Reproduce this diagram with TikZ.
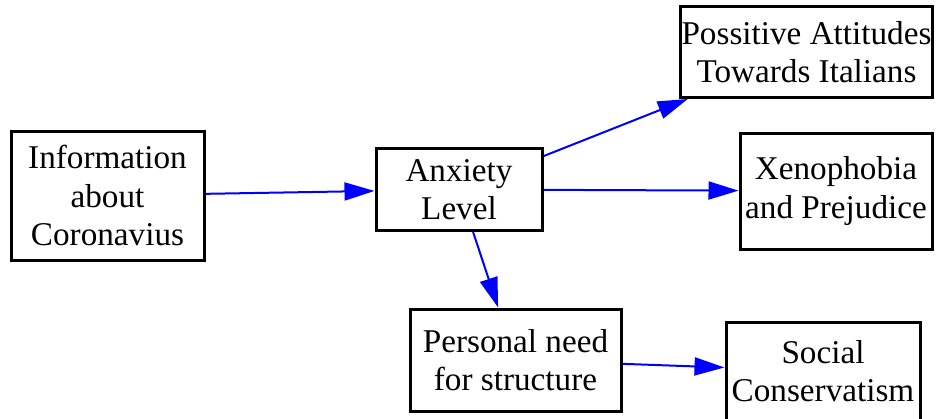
\documentclass[tikz,border=0pt]{standalone}
\usepackage{fontspec}
\setmainfont{Liberation Serif}
\usetikzlibrary{arrows.meta}
\tikzset{>={Triangle[length=15pt,width=9pt]}}

\begin{document}
\begin{tikzpicture}[x=0.5pt,y=-0.5pt,
    box/.style={draw, line width=1.5pt, align=center, inner sep=0pt, font=\fontsize{16.6}{19.2}\selectfont},
    link/.style={->, blue, line width=1pt}]
  \useasboundingbox (0,0) rectangle (936,418);

  % source and mediator
  \node[box,minimum width=96.5pt,minimum height=64.5pt] (info) at (107.5,195.5) {Information\\about\\Coronavius};
  \node[box,minimum width=83pt,minimum height=41pt] (anx) at (459,189.5) {Anxiety\\Level};

  % outcomes
  \node[box,minimum width=126pt,minimum height=45.5pt] (pos) at (806.5,52) {Possitive Attitudes\\Towards Italians};
  \node[box,minimum width=96pt,minimum height=58pt] (xeno) at (836,191) {Xenophobia\\and Prejudice};
  \node[box,minimum width=105.5pt,minimum height=51pt] (need) at (515.5,360) {Personal need\\for structure};
  \node[box,minimum width=97pt,minimum height=49pt] (cons) at (823,371) {Social\\Conservatism};

  % paths
  \draw[link] (info) -- (anx);
  \draw[link] (anx) -- (pos);
  \draw[link] (anx) -- (xeno);
  \draw[link] (anx) -- (need);
  \draw[link] (need) -- (cons);
\end{tikzpicture}
\end{document}
